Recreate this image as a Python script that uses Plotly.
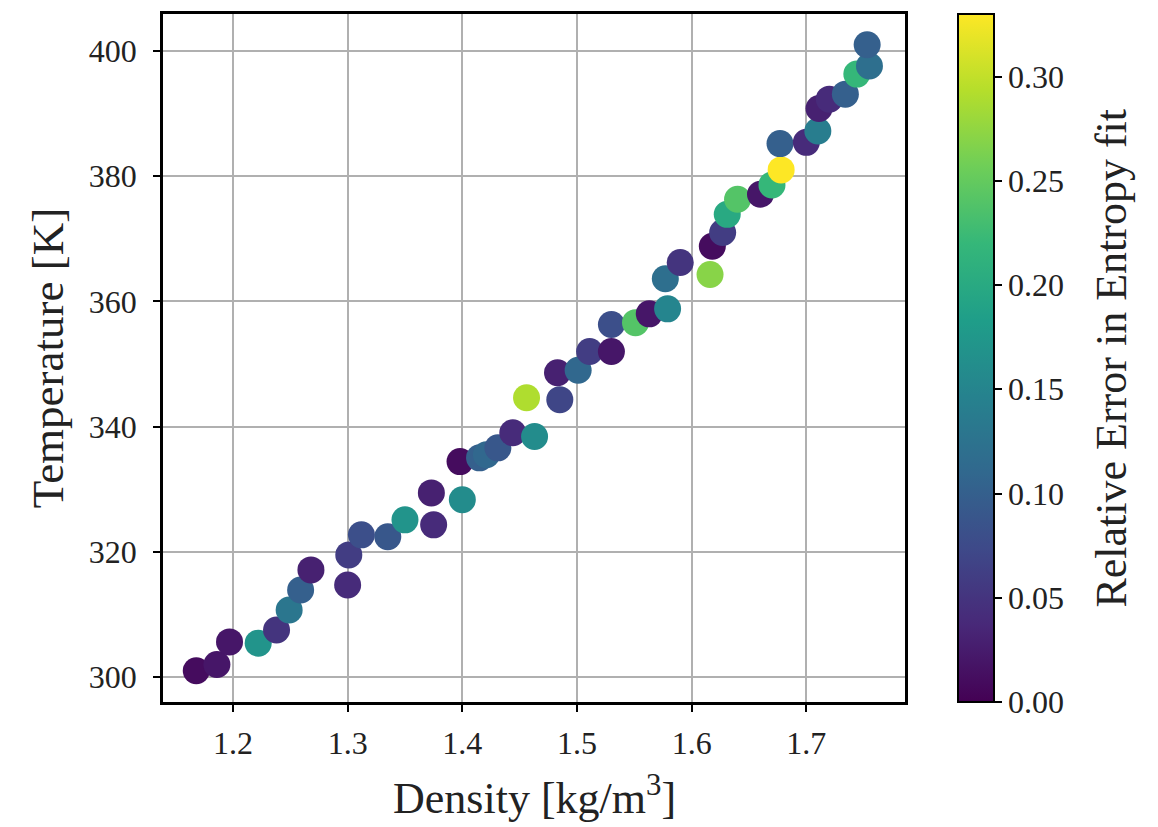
import plotly.graph_objects as go

# Sampled state points: density, temperature and relative entropy-fit error
density = [1.168, 1.186, 1.197, 1.222, 1.238, 1.249, 1.259, 1.268, 1.300, 1.301,
           1.312, 1.335, 1.350, 1.375, 1.373, 1.400, 1.398, 1.415, 1.421, 1.431,
           1.444, 1.463, 1.456, 1.483, 1.485, 1.501, 1.511, 1.530, 1.530, 1.551,
           1.563, 1.579, 1.577, 1.590, 1.616, 1.618, 1.627, 1.631, 1.640, 1.660,
           1.670, 1.678, 1.677, 1.700, 1.710, 1.711, 1.720, 1.734, 1.744, 1.755,
           1.753]
temperature = [301.0, 302.0, 305.6, 305.4, 307.5, 310.7, 313.9, 317.1, 314.7, 319.5,
               322.7, 322.4, 325.1, 324.3, 329.4, 328.3, 334.4, 335.0, 335.5, 336.6,
               339.0, 338.4, 344.6, 348.6, 344.3, 349.0, 352.0, 352.0, 356.3, 356.6,
               358.0, 358.8, 363.6, 366.2, 364.3, 368.8, 371.0, 373.9, 376.3, 377.1,
               378.6, 381.0, 385.2, 385.4, 387.2, 390.8, 392.3, 393.1, 396.3, 397.6,
               401.0]
rel_error = [0.01, 0.02, 0.02, 0.17, 0.05, 0.13, 0.10, 0.03, 0.04, 0.06,
             0.08, 0.09, 0.17, 0.04, 0.03, 0.16, 0.01, 0.10, 0.11, 0.09,
             0.04, 0.16, 0.29, 0.03, 0.07, 0.11, 0.06, 0.02, 0.08, 0.24,
             0.02, 0.15, 0.12, 0.05, 0.27, 0.01, 0.06, 0.20, 0.24, 0.02,
             0.22, 0.33, 0.10, 0.04, 0.14, 0.03, 0.04, 0.10, 0.22, 0.12,
             0.10]

x_ticks = [1.2, 1.3, 1.4, 1.5, 1.6, 1.7]
y_ticks = [300, 320, 340, 360, 380, 400]
cbar_ticks = [0.00, 0.05, 0.10, 0.15, 0.20, 0.25, 0.30]

FONT = "Liberation Serif"
TEXT = "#222"

fig = go.Figure(
    go.Scatter(
        x=density,
        y=temperature,
        mode="markers",
        marker=dict(
            size=27,
            color=rel_error,
            colorscale="Viridis",
            cmin=0.0,
            cmax=0.33,
            line=dict(width=0),
            colorbar=dict(
                x=1.058,
                xanchor="left",
                y=0.5,
                len=1.0,
                lenmode="fraction",
                thickness=36,
                outlinewidth=2,
                outlinecolor="black",
                tickvals=cbar_ticks,
                ticktext=[f"{v:.2f}" for v in cbar_ticks],
                ticks="outside",
                ticklen=7,
                tickwidth=2,
                tickcolor="black",
                tickfont=dict(family=FONT, size=32, color=TEXT),
                ypad=0,
            ),
        ),
        showlegend=False,
        hoverinfo="skip",
    )
)

axis_common = dict(
    showline=True,
    linewidth=2.5,
    linecolor="black",
    mirror=True,
    ticks="outside",
    ticklen=7,
    tickwidth=2,
    tickcolor="black",
    showgrid=True,
    gridcolor="#b0b0b0",
    gridwidth=2,
    zeroline=False,
    tickfont=dict(family=FONT, size=32, color=TEXT),
)

fig.update_layout(
    width=1158,
    height=827,
    margin=dict(l=163, r=253, t=14, b=125),
    paper_bgcolor="white",
    plot_bgcolor="white",
    xaxis=dict(
        axis_common,
        range=[1.139, 1.786],
        tickvals=x_ticks,
        ticktext=[f"{v:.1f}" for v in x_ticks],
        ticklabelstandoff=4,
    ),
    yaxis=dict(
        axis_common,
        range=[296.0, 405.9],
        tickvals=y_ticks,
        ticktext=[str(v) for v in y_ticks],
        ticklabelstandoff=10,
        title=dict(text="Temperature [K]",
                   font=dict(family=FONT, size=45, color=TEXT), standoff=12),
    ),
    annotations=[
        dict(
            text="Density [kg/m<sup>3</sup>]",
            xref="paper", yref="paper",
            x=0.5, y=-0.093,
            xanchor="center", yanchor="top",
            showarrow=False,
            font=dict(family=FONT, size=44, color=TEXT),
        ),
        dict(
            text="Relative Error in Entropy fit",
            xref="paper", yref="paper",
            x=1.277, y=0.5,
            xanchor="center", yanchor="middle",
            textangle=-90,
            showarrow=False,
            font=dict(family=FONT, size=44, color=TEXT),
        ),
    ],
)

fig.write_html("out.html")
